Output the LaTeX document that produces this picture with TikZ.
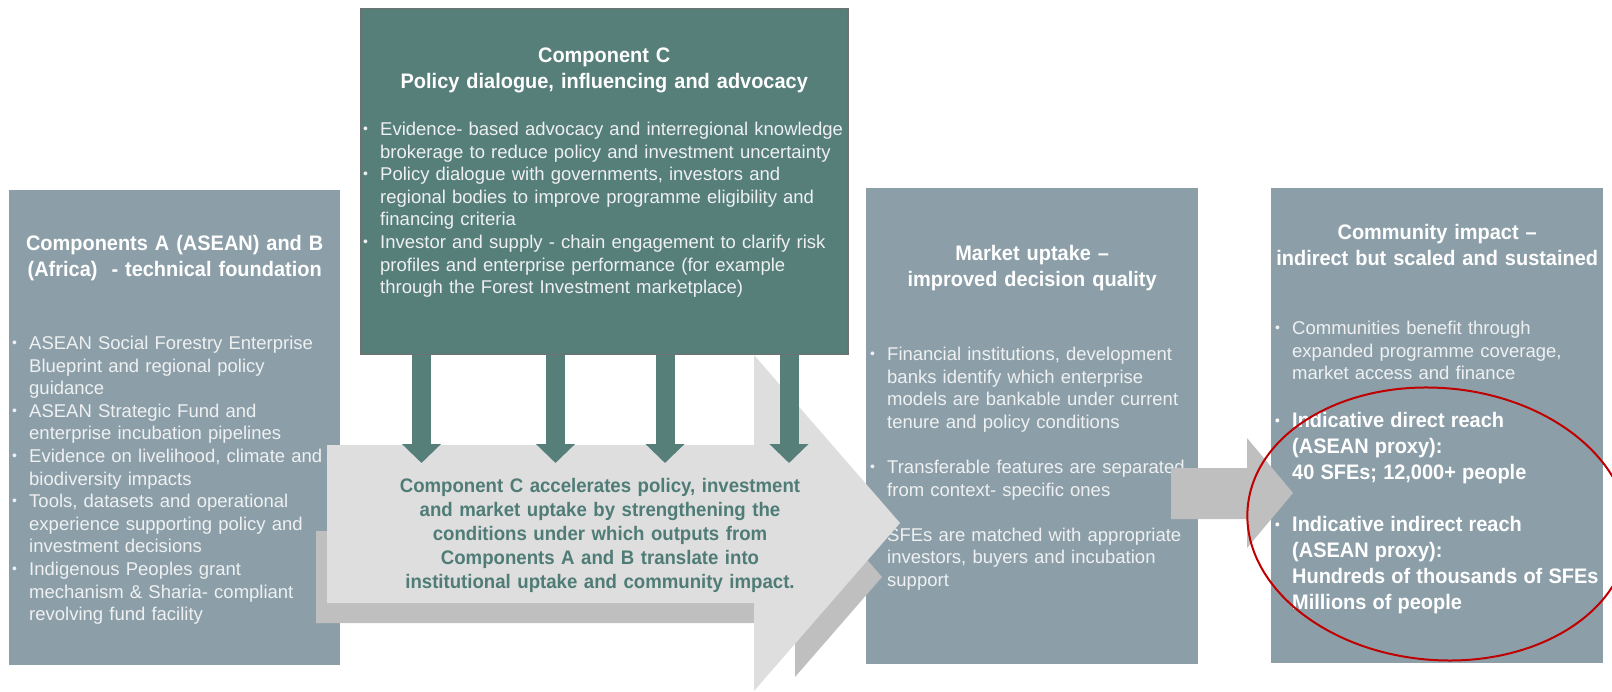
\documentclass[tikz,border=0pt]{standalone}
\usepackage{fontspec}
\setmainfont{Liberation Sans}[BoldFeatures={FakeStretch=0.95}]
\usepackage{tikz}
\usetikzlibrary{positioning,arrows.meta}
\definecolor{slate}{HTML}{8C9FA9}
\definecolor{pine}{HTML}{567F7A}
\definecolor{pinetext}{HTML}{4F7C76}
\definecolor{mist}{HTML}{DEDEDE}
\definecolor{ash}{HTML}{BFBFBF}
\definecolor{rim}{HTML}{707070}
\definecolor{paper}{HTML}{EEF0F1}
\definecolor{alarm}{HTML}{C00000}
\newcommand{\bitem}{\par\noindent\hangindent=17pt\hangafter=1\makebox[17pt][l]{\fontsize{14pt}{14pt}\selectfont\raisebox{2pt}{\textbullet}}\strut}

\begin{document}
\begin{tikzpicture}[x=1pt,y=-1pt,
	panel/.style={fill=slate,inner sep=0pt,anchor=north west},
	head/.style={text=white,font=\fontsize{21pt}{26.5pt}\selectfont\bfseries,align=center,text width=480pt,inner sep=0pt},
	list/.style={text=paper,font=\fontsize{18.5pt}{22.6pt}\selectfont,align=left,text width=500pt,inner sep=0pt},
	drop/.style={pine,line width=19pt,-{Triangle[width=38pt,length=19pt]}}]
	\useasboundingbox (0,0) rectangle (1612,692);
	\node[panel,minimum width=331pt,minimum height=475pt] (compA) at (9,190) {};
	\node[panel,fill=pine,draw=rim,line width=1.5pt,minimum width=487pt,minimum height=346pt] (compC) at (360,8) {};
	\node[panel,minimum width=332pt,minimum height=476pt] (market) at (866,188) {};
	\node[panel,minimum width=332pt,minimum height=475pt] (impact) at (1271,188) {};
	\node[head,below=41.45pt of compA.north] (compAhead) {\strut Components A (ASEAN) and B\\(Africa)\ \ - technical foundation};
	\node[list,below right=136.7pt and 3pt of compA.north west] (compAlist) {%
		\bitem ASEAN Social Forestry Enterprise\newline Blueprint and regional policy\newline guidance
		\bitem ASEAN Strategic Fund and\newline enterprise incubation pipelines
		\bitem Evidence on livelihood, climate and\newline biodiversity impacts
		\bitem Tools, datasets and operational\newline experience supporting policy and\newline investment decisions
		\bitem Indigenous Peoples grant\newline mechanism \& Sharia- compliant\newline revolving fund facility\par};
	\node[head,below=35.45pt of compC.north] (compChead) {\strut Component C\\Policy dialogue, influencing and advocacy};
	\node[list,below right=104.7pt and 3pt of compC.north west] (compClist) {%
		\bitem Evidence- based advocacy and interregional knowledge\newline brokerage to reduce policy and investment uncertainty
		\bitem Policy dialogue with governments, investors and\newline regional bodies to improve programme eligibility and\newline financing criteria
		\bitem Investor and supply - chain engagement to clarify risk\newline profiles and enterprise performance (for example\newline through the Forest Investment marketplace)\par};
	\node[head,below=53.45pt of market.north] (markethead) {\strut Market uptake –\\improved decision quality};
	\node[list,below right=149.7pt and 4pt of market.north west] (marketlist) {%
		\bitem Financial institutions, development\newline banks identify which enterprise\newline models are bankable under current\newline tenure and policy conditions
		\par\vspace{22.6pt}
		\bitem Transferable features are separated\newline from context- specific ones
		\par\vspace{22.6pt}
		\bitem SFEs are matched with appropriate\newline investors, buyers and incubation\newline support\par};
	\node[head,below=32.45pt of impact.north] (impacthead) {\strut Community impact –\\indirect but scaled and sustained};
	\node[list,below right=123.7pt and 4pt of impact.north west] (impactlist) {%
		\bitem Communities benefit through\newline expanded programme coverage,\newline market access and finance
		\par\vspace{21.5pt}\fontsize{21pt}{26pt}\selectfont\bfseries\color{white}
		\bitem Indicative direct reach\newline (ASEAN proxy):\newline 40 SFEs; 12,000+ people
		\par\vspace{26pt}
		\bitem Indicative indirect reach\newline (ASEAN proxy):\newline Hundreds of thousands of SFEs\newline Millions of people\par};
	\fill[ash] (316,531) -- (795,531) -- (795,477) -- (882,577) -- (795,677) -- (795,623) -- (316,623) -- cycle;
	\fill[mist] (327,445) -- (754,445) -- (754,355) -- (900,523) -- (754,691) -- (754,603) -- (327,603) -- cycle;
	\coordinate (flowtop) at (600,463);
	\foreach \x in {421.5,555.5,665,789}
		\draw[drop] (compC.south -| \x,0) -- (flowtop -| \x,0);
	\node[text=pinetext,font=\fontsize{19.6pt}{24pt}\selectfont\bfseries,align=center,text width=440pt,inner sep=0pt,anchor=north] (flowtext) at (600,475.2) {\strut Component C accelerates policy, investment\\and market uptake by strengthening the\\conditions under which outputs from\\Components A and B translate into\\institutional uptake and community impact.};
	\fill[ash] (1171,468) -- (1247,468) -- (1247,438) -- (1293,493) -- (1247,548) -- (1247,519) -- (1171,519) -- cycle;
	\draw[alarm,line width=2pt,rotate around={-5:(1438,524)}] (1438,524) ellipse [x radius=191pt,y radius=136pt];
\end{tikzpicture}
\end{document}
